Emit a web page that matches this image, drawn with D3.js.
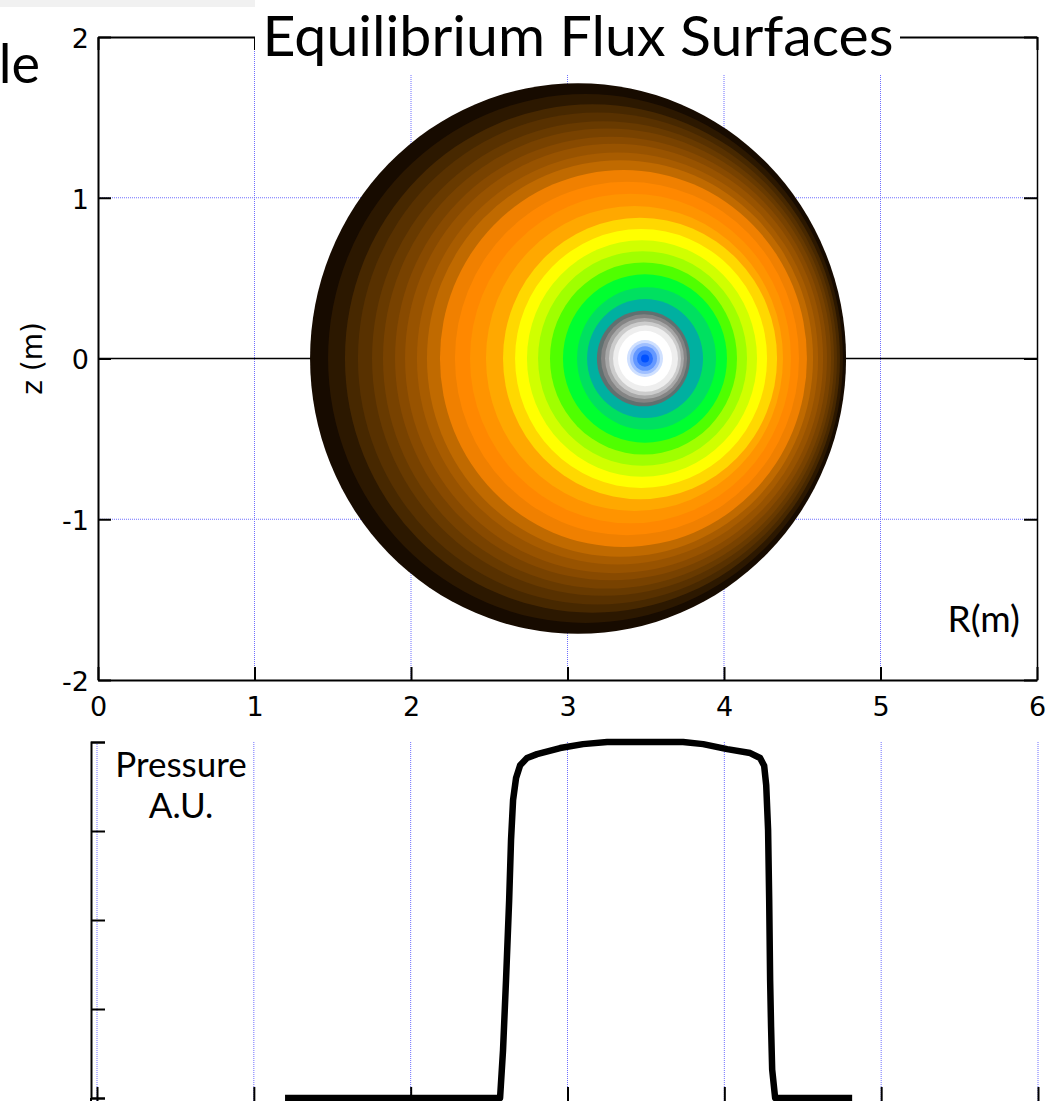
<!DOCTYPE html>
<html>
<head>
<meta charset="utf-8">
<script src="https://cdn.jsdelivr.net/npm/d3@7"></script>
<style>
  body { margin: 0; background: #fff; }
  svg { display: block; }
</style>
</head>
<body>
<svg id="chart" width="1055" height="1101"></svg>
<script>
// Nested flux surfaces, outermost first: midplane crossings (inboard / outboard R, metres)
const surfaceInnerR = [1.355, 1.470, 1.578, 1.661, 1.751, 1.821, 1.898, 1.962, 2.038, 2.102,
  2.185, 2.281, 2.377, 2.479, 2.588, 2.665, 2.741, 2.812, 2.888, 2.971,
  3.061, 3.125, 3.188, 3.214, 3.240, 3.265, 3.291, 3.323, 3.380, 3.399,
  3.419, 3.444, 3.470];
const surfaceOuterR = [4.780, 4.760, 4.741, 4.722, 4.703, 4.684, 4.658, 4.633, 4.601, 4.569,
  4.530, 4.479, 4.428, 4.377, 4.339, 4.275, 4.211, 4.147, 4.083, 4.019,
  3.949, 3.866, 3.783, 3.764, 3.744, 3.725, 3.706, 3.668, 3.610, 3.591,
  3.572, 3.546, 3.521];
// Fill of the region enclosed by each surface
const surfaceColor = ["#170b00", "#2c1800", "#472800", "#583100", "#683a00", "#784200", "#884a00", "#985300", "#a85c00", "#c06a00",
  "#f08000", "#ff8800", "#ff9400", "#ffa800", "#ffd800", "#ffff00", "#d0ff00", "#a0ff00", "#50ff00", "#00ff30",
  "#00e060", "#00b0a0", "#607070", "#848484", "#a8a8a8", "#cccccc", "#eeeeee", "#ffffff", "#cfe0ff", "#a0c0ff",
  "#6498ff", "#2e72ff", "#0050ff"];

// Midplane pressure profile (arbitrary units)
const pressureR = [1.199, 1.932, 2.570, 2.589, 2.608, 2.628, 2.640, 2.653, 2.672, 2.698,
  2.742, 2.806, 2.953, 3.099, 3.253, 3.737, 3.865, 4.018, 4.165, 4.228,
  4.254, 4.267, 4.279, 4.286, 4.292, 4.298, 4.305, 4.324, 4.815];
const pressureP = [0, 0, 0, 0.135, 0.331, 0.556, 0.725, 0.837, 0.899, 0.935,
  0.955, 0.966, 0.983, 0.994, 1.0, 1.0, 0.994, 0.980, 0.969, 0.955,
  0.933, 0.879, 0.753, 0.556, 0.331, 0.200, 0.080, 0, 0];

const rTicks = [0, 1, 2, 3, 4, 5, 6];
const zTicks = [2, 1, 0, -1, -2];
const pTicks = [0, 0.25, 0.5, 0.75, 1];

const svg = d3.select("#chart");
const gridColor = "#6f6fff";
const numFont = "'DejaVu Sans', sans-serif";
const textFont = "Lato, 'Open Sans', sans-serif";
const plainNumber = d => String(d);

// ---------- upper panel: flux surfaces ----------
const x = d3.scaleLinear().domain([0, 6]).range([98, 1037]);
const y = d3.scaleLinear().domain([-2, 2]).range([680, 37]);

svg.append("rect").attr("x", 0).attr("y", 0).attr("width", 255).attr("height", 7).attr("fill", "#f1f1f1");

const upper = svg.append("g");

// dotted grid
upper.selectAll("line.vg").data(rTicks.filter(d => d > 0 && d < 6)).join("line")
  .attr("x1", d => x(d)).attr("x2", d => x(d)).attr("y1", y(2)).attr("y2", y(-2))
  .attr("stroke", gridColor).attr("stroke-width", 1).attr("stroke-dasharray", "1,1");
upper.selectAll("line.hg").data(zTicks.filter(d => d === 1 || d === -1)).join("line")
  .attr("x1", x(0)).attr("x2", x(6)).attr("y1", d => y(d)).attr("y2", d => y(d))
  .attr("stroke", gridColor).attr("stroke-width", 1).attr("stroke-dasharray", "1,1");
// z = 0 line
upper.append("line").attr("x1", x(0)).attr("x2", x(6)).attr("y1", y(0)).attr("y2", y(0))
  .attr("stroke", "#000").attr("stroke-width", 1.5);

// filled surfaces, outermost first
const surfaces = surfaceInnerR.map((r1, i) => ({ r1, r2: surfaceOuterR[i], color: surfaceColor[i] }));
upper.selectAll("ellipse.fs").data(surfaces).join("ellipse")
  .attr("cx", d => x((d.r1 + d.r2) / 2))
  .attr("cy", y(0))
  .attr("rx", d => x(d.r2) - x((d.r1 + d.r2) / 2))
  .attr("ry", d => y(0) - y((d.r2 - d.r1) / 2))
  .attr("fill", d => d.color);

// axes with inward ticks
const styleAxis = g => {
  g.selectAll("path.domain").attr("stroke", "#000").attr("stroke-width", 2);
  g.selectAll(".tick line").attr("stroke", "#000").attr("stroke-width", 2);
  g.selectAll("text").attr("font-family", numFont).attr("font-size", 27).attr("fill", "#000");
};
upper.append("g").attr("transform", `translate(${x(0)},0)`)
  .call(d3.axisLeft(y).tickValues(zTicks).tickSizeInner(-13).tickSizeOuter(0).tickPadding(9).tickFormat(plainNumber))
  .call(styleAxis)
  .call(g => g.selectAll("text").attr("dy", "0.38em"));
upper.append("g").attr("transform", `translate(0,${y(-2)})`)
  .call(d3.axisBottom(x).tickValues(rTicks).tickSizeInner(-13).tickSizeOuter(0).tickPadding(17).tickFormat(plainNumber))
  .call(styleAxis);
upper.append("g").attr("transform", `translate(${x(6)},0)`)
  .call(d3.axisRight(y).tickValues(zTicks).tickSizeInner(-13).tickSizeOuter(0).tickFormat(""))
  .call(styleAxis)
  .call(g => g.select("path.domain").attr("stroke-width", 1.5));
upper.append("g").attr("transform", `translate(0,${y(2)})`)
  .call(d3.axisTop(x).tickValues(rTicks).tickSizeInner(-13).tickSizeOuter(0).tickFormat(""))
  .call(styleAxis);

// axis titles
svg.append("text").attr("transform", `translate(42,${y(0)}) rotate(-90)`)
  .attr("text-anchor", "middle").attr("font-family", numFont).attr("font-size", 28).text("z (m)");
svg.append("text").attr("x", 1020).attr("y", 632).attr("text-anchor", "end")
  .attr("font-family", textFont).attr("font-size", 37).text("R(m)");

// title on a white band over the top axis
svg.append("rect").attr("x", 255).attr("y", 0).attr("width", 645).attr("height", 75).attr("fill", "#fff");
svg.append("text").attr("x", 578).attr("y", 56).attr("text-anchor", "middle")
  .attr("font-family", textFont).attr("font-size", 57)
  .attr("textLength", 631).attr("lengthAdjust", "spacingAndGlyphs")
  .text("Equilibrium Flux Surfaces");
svg.append("text").attr("x", 40).attr("y", 83).attr("text-anchor", "end")
  .attr("font-family", textFont).attr("font-size", 54).text("le");

// ---------- lower panel: pressure profile ----------
const xb = d3.scaleLinear().domain([0, 6]).range([97, 1038]);
const yb = d3.scaleLinear().domain([0, 1]).range([1098, 742]);
const lower = svg.append("g");

lower.selectAll("line.vg").data(rTicks).join("line")
  .attr("x1", d => xb(d)).attr("x2", d => xb(d)).attr("y1", yb(1)).attr("y2", 1101)
  .attr("stroke", gridColor).attr("stroke-width", 1).attr("stroke-dasharray", "1,1");

lower.append("g").attr("transform", "translate(91,0)")
  .call(d3.axisLeft(yb).tickValues(pTicks).tickSizeInner(-14).tickSizeOuter(-14).tickFormat(""))
  .call(styleAxis);
lower.append("line").attr("x1", 91).attr("x2", 91).attr("y1", 1098).attr("y2", 1101)
  .attr("stroke", "#000").attr("stroke-width", 2);
lower.append("g").attr("transform", "translate(0,1101)")
  .call(d3.axisBottom(xb).tickValues(rTicks).tickSizeInner(-14).tickSizeOuter(0).tickFormat(""))
  .call(styleAxis)
  .call(g => g.select("path.domain").remove());

const profile = pressureR.map((r, i) => [r, pressureP[i]]);
lower.append("path").datum(profile)
  .attr("d", d3.line().x(d => xb(d[0])).y(d => yb(d[1])))
  .attr("fill", "none").attr("stroke", "#000").attr("stroke-width", 6.5)
  .attr("stroke-linejoin", "round");

svg.append("text").attr("x", 181).attr("y", 777).attr("text-anchor", "middle")
  .attr("font-family", textFont).attr("font-size", 35).text("Pressure");
svg.append("text").attr("x", 181).attr("y", 818).attr("text-anchor", "middle")
  .attr("font-family", textFont).attr("font-size", 35).text("A.U.");
</script>
</body>
</html>
